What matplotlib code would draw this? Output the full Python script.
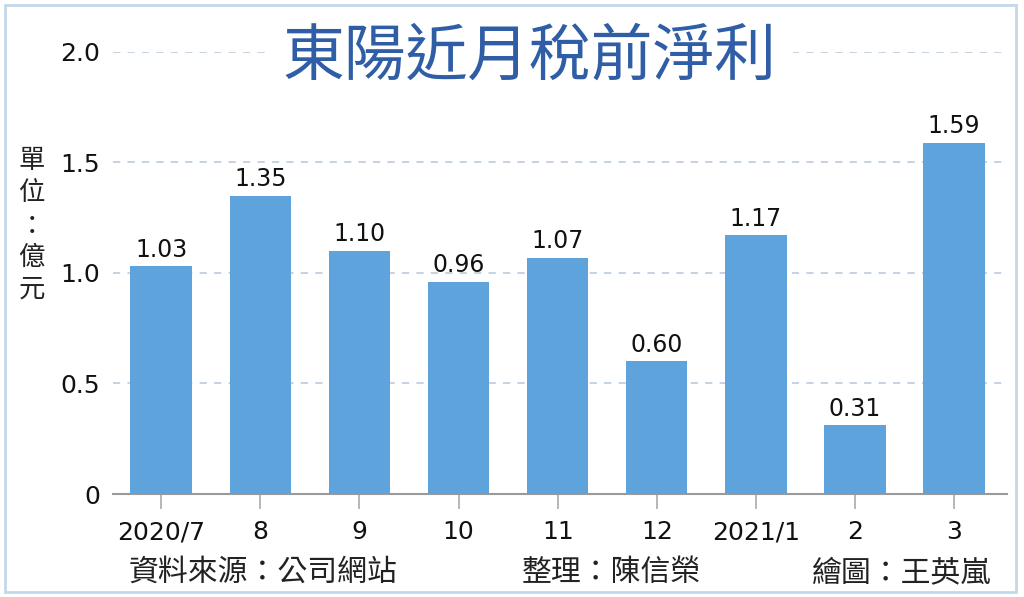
import matplotlib
matplotlib.use("Agg")
from matplotlib import pyplot as plt
from matplotlib.patches import Rectangle

months = ["2020/7", "8", "9", "10", "11", "12", "2021/1", "2", "3"]
profit = [1.03, 1.35, 1.10, 0.96, 1.07, 0.60, 1.17, 0.31, 1.59]
yticks = [0, 0.5, 1.0, 1.5, 2.0]
ytick_labels = ["0", "0.5", "1.0", "1.5", "2.0"]

plt.rcParams["font.family"] = ["Noto Sans CJK TC", "DejaVu Sans"]

fig = plt.figure(figsize=(10.24, 5.97), dpi=100)
ax = fig.add_axes([0.110, 0.1725, 0.873, 0.7405])

x = list(range(len(months)))
ax.bar(x, profit, width=0.62, color="#5fa3dd", zorder=3)
for i, v in zip(x, profit):
    ax.text(i, v + 0.02, "%.2f" % v, ha="center", va="bottom",
            fontsize=17, color="#111111", family="DejaVu Sans")

ax.set_xlim(-0.49, 8.53)
ax.set_ylim(0, 2.0)
ax.set_yticks(yticks)
ax.set_yticklabels(ytick_labels, family="DejaVu Sans", fontsize=18, color="#111111")
ax.set_xticks(x)
ax.set_xticklabels(months, family="DejaVu Sans", fontsize=18, color="#111111")
ax.tick_params(axis="y", length=0, pad=9)
ax.tick_params(axis="x", length=11, width=1.2, color="#aaaaaa", pad=8)

for y in yticks[1:]:
    ax.axhline(y, color="#bfcfdf", lw=1.3, ls=(0, (4, 4)), zorder=1)

for s in ["top", "right", "left"]:
    ax.spines[s].set_visible(False)
ax.spines["bottom"].set_color("#9a9a9a")
ax.spines["bottom"].set_linewidth(1.5)

# title with white box over the top gridline
fig.text(0.517, 0.905, "東陽近月稅前淨利", ha="center", va="center",
         fontsize=44.5, color="#2f5ea6",
         bbox=dict(facecolor="white", edgecolor="none", pad=12))

fig.text(0.031, 0.623, "單\n位\n：\n億\n元", ha="center", va="center",
         fontsize=19, color="#222222", linespacing=1.25)

fig.text(0.257, 0.041, "資料來源：公司網站", ha="center", va="center",
         fontsize=21.5, color="#222222")
fig.text(0.597, 0.041, "整理：陳信榮", ha="center", va="center",
         fontsize=21.5, color="#222222")
fig.text(0.880, 0.041, "繪圖：王英嵐", ha="center", va="center",
         fontsize=21.5, color="#222222")

fig.patches.append(Rectangle((0.005, 0.009), 0.987, 0.983, transform=fig.transFigure,
                             fill=False, edgecolor="#c3d7ea", lw=2))

fig.savefig("out.png", dpi=100)
